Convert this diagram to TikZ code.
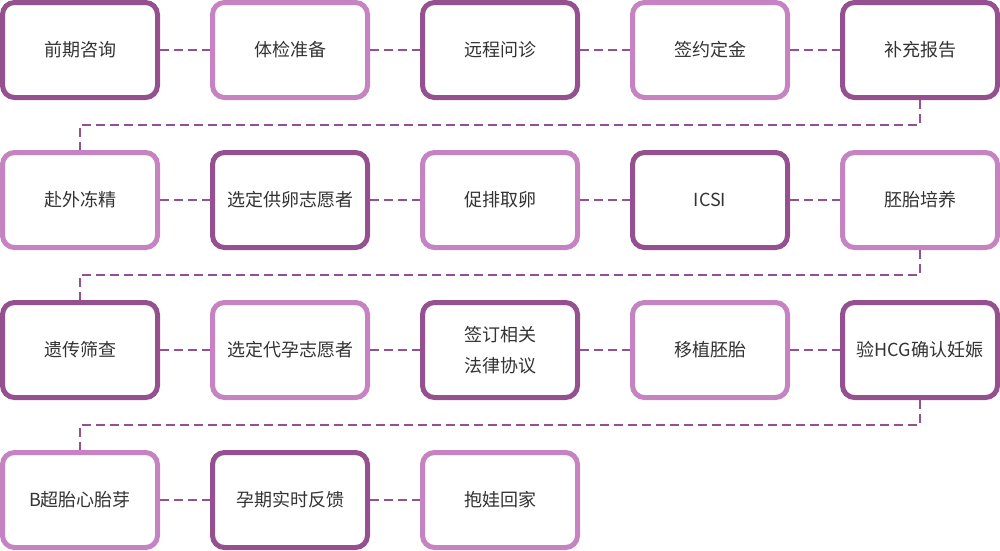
\documentclass[tikz,border=0pt]{standalone}
\usepackage{fontspec}
\setmainfont{Noto Sans CJK SC}
\usetikzlibrary{positioning}
\definecolor{darkpurple}{RGB}{148,80,143}
\definecolor{lightpurple}{RGB}{197,131,194}
\definecolor{textgray}{RGB}{51,51,51}
\tikzset{
	x=1pt, y=1pt, % one unit is one pixel of the reference
	node distance=210pt, % centre to centre, along a row
	stage/.style={rectangle, rounded corners=12pt, line width=5pt, fill=white,
		minimum width=155pt, minimum height=95pt, align=center,
		text=textgray, font=\fontsize{18pt}{31pt}\selectfont}, % every box
	dk/.style={stage, draw=darkpurple}, % dark frame
	lt/.style={stage, draw=lightpurple}, % light frame
	link/.style={draw=darkpurple, line width=2pt, dash pattern=on 9pt off 5pt}, % dashed connector
}
\begin{document}
\begin{tikzpicture}
	\useasboundingbox (0,0) rectangle (1000,-550);
	% row 1
	\node[dk] at (80,-50) (s1) {前期咨询};
	\node[lt, right of=s1] (s2) {体检准备};
	\node[dk, right of=s2] (s3) {远程问诊};
	\node[lt, right of=s3] (s4) {签约定金};
	\node[dk, right of=s4] (s5) {补充报告};
	% row 2
	\node[lt] at (80,-200) (s6) {赴外冻精};
	\node[dk, right of=s6] (s7) {选定供卵志愿者};
	\node[lt, right of=s7] (s8) {促排取卵};
	\node[dk, right of=s8] (s9) {ICSI};
	\node[lt, right of=s9] (s10) {胚胎培养};
	% row 3
	\node[dk] at (80,-350) (s11) {遗传筛查};
	\node[lt, right of=s11] (s12) {选定代孕志愿者};
	\node[dk, right of=s12] (s13) {签订相关\\法律协议};
	\node[lt, right of=s13] (s14) {移植胚胎};
	\node[dk, right of=s14] (s15) {验HCG确认妊娠};
	% row 4
	\node[lt] at (80,-500) (s16) {B超胎心胎芽};
	\node[dk, right of=s16] (s17) {孕期实时反馈};
	\node[lt, right of=s17] (s18) {抱娃回家};

	\foreach \a/\b in {1/2,2/3,3/4,4/5,6/7,7/8,8/9,9/10,11/12,12/13,13/14,14/15,16/17,17/18}
		\draw[link] (s\a.east) -- (s\b.west);
	\foreach \a/\b in {5/6,10/11,15/16}
		\draw[link] (s\a.south) -- ([yshift=-25pt]s\a.south) -| (s\b.north);
\end{tikzpicture}
\end{document}
